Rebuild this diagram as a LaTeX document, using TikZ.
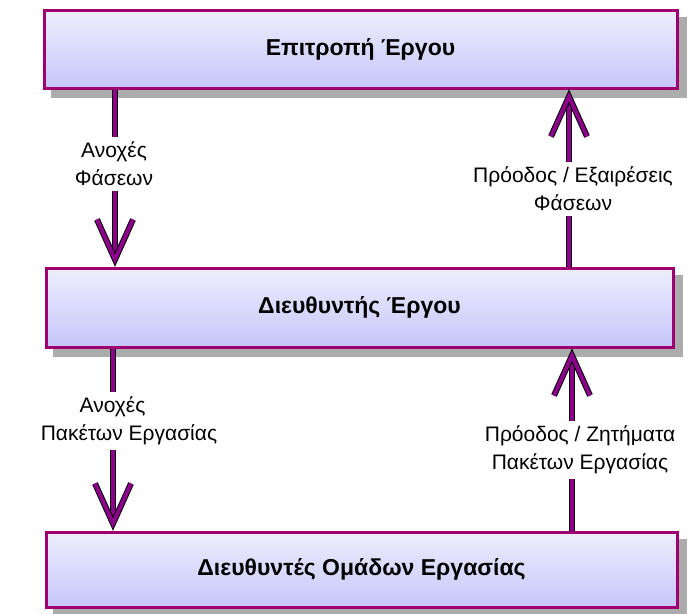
\documentclass[tikz,border=0pt]{standalone}
\usepackage{fontspec}
\setmainfont{Liberation Sans}
\usetikzlibrary{calc,backgrounds}

\definecolor{boxedge}{RGB}{158,0,112}
\definecolor{boxtop}{RGB}{238,238,253}
\definecolor{boxbot}{RGB}{198,198,250}
\definecolor{shadowgray}{RGB}{172,172,172}
\definecolor{flowpurple}{RGB}{140,0,140}

\tikzset{
  rolebox/.style={draw=boxedge, line width=3pt, top color=boxtop, bottom color=boxbot,
    inner sep=0pt, font=\fontsize{23}{27}\selectfont\bfseries},
  flowlabel/.style={align=center, inner xsep=2pt, inner ysep=5pt,
    font=\fontsize{21}{28}\selectfont},
  shaft/.style={draw=black, line width=1pt, double=flowpurple, double distance=4pt},
  chevron/.style={shaft, line join=miter, line cap=butt},
}

\begin{document}
\begin{tikzpicture}[x=1pt,y=-1pt]
\useasboundingbox (0,0) rectangle (695,613);

% the three management levels
\node[rolebox, minimum width=633pt, minimum height=78pt] (b1) at (360.5,49) {Επιτροπή Έργου};
\node[rolebox, minimum width=627pt, minimum height=79pt] (b2) at (359.5,307.5) {Διευθυντής Έργου};
\node[rolebox, minimum width=631pt, minimum height=75pt] (b3) at (361.5,569.5) {Διευθυντές Ομάδων Εργασίας};

% flat grey shadows behind the boxes
\begin{scope}[on background layer]
  \foreach \b in {b1,b2,b3}
    \fill[shadowgray] ($(\b.north west)+(8,8)$) rectangle ($(\b.south east)+(8,8)$);
\end{scope}

% columns of the four flows
\coordinate (c1) at (115,0);
\coordinate (c2) at (569,0);
\coordinate (c3) at (113,0);
\coordinate (c4) at (572,0);

% labels of the flows
\node[flowlabel] (l1) at (114,164) {Ανοχές\\Φάσεων};
\node[flowlabel] (r1) at (573,189) {Πρόοδος / Εξαιρέσεις\\Φάσεων};
\node[flowlabel] (l2) at (129,421) {\hspace*{-33pt}Ανοχές\\Πακέτων Εργασίας};
\node[flowlabel] (r2) at (580,450) {Πρόοδος / Ζητήματα\\Πακέτων Εργασίας};

% arrow tips, just clear of the box borders
\coordinate (t1) at ($(b2.north -| c1)+(0,-7)$);
\coordinate (t2) at ($(b1.south -| c2)+(0,7)$);
\coordinate (t3) at ($(b3.north -| c3)+(0,-7)$);
\coordinate (t4) at ($(b2.south -| c4)+(0,7)$);

% downward flows
\draw[shaft] (b1.south -| c1) -- (l1.north -| c1);
\draw[shaft] (l1.south -| c1) -- (t1);
\draw[chevron] ($(t1)+(-18,-40)$) -- (t1) -- ($(t1)+(18,-40)$);

\draw[shaft] (b2.south -| c3) -- (l2.north -| c3);
\draw[shaft] (l2.south -| c3) -- (t3);
\draw[chevron] ($(t3)+(-18,-40)$) -- (t3) -- ($(t3)+(18,-40)$);

% upward flows
\draw[shaft] (b2.north -| c2) -- (r1.south -| c2);
\draw[shaft] (r1.north -| c2) -- (t2);
\draw[chevron] ($(t2)+(-18,40)$) -- (t2) -- ($(t2)+(18,40)$);

\draw[shaft] (b3.north -| c4) -- (r2.south -| c4);
\draw[shaft] (r2.north -| c4) -- (t4);
\draw[chevron] ($(t4)+(-18,40)$) -- (t4) -- ($(t4)+(18,40)$);
\end{tikzpicture}
\end{document}
